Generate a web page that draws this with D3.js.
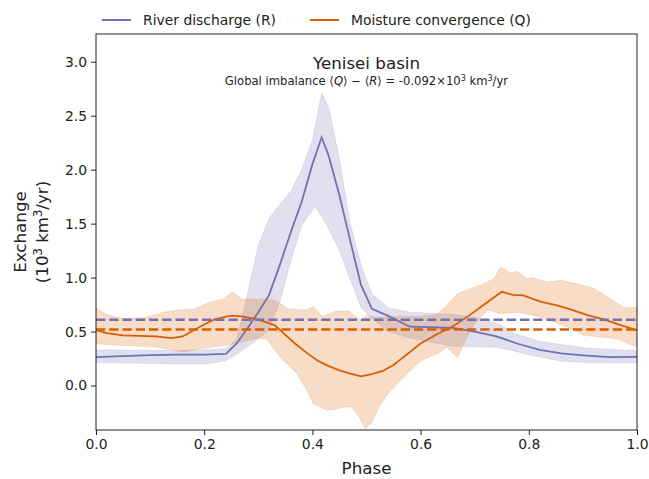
<!DOCTYPE html>
<html>
<head>
<meta charset="utf-8">
<script src="https://cdn.jsdelivr.net/npm/d3@7"></script>
<style>
  body { margin: 0; background: #fff; }
  svg { font-family: "DejaVu Sans", sans-serif; }
</style>
</head>
<body>
<svg width="649" height="479"></svg>
<script>
// River discharge (R): mean and spread edges, [phase, value]
const riverMean = [[0,0.263],[0.05,0.272],[0.1,0.282],[0.15,0.287],[0.2,0.286],[0.24,0.294],[0.26,0.39],[0.28,0.53],[0.30,0.68],[0.32,0.84],[0.34,1.12],[0.36,1.42],[0.38,1.70],[0.40,2.05],[0.417,2.30],[0.43,2.13],[0.45,1.76],[0.47,1.34],[0.49,0.93],[0.51,0.71],[0.54,0.645],[0.58,0.545],[0.62,0.54],[0.66,0.535],[0.70,0.50],[0.74,0.455],[0.78,0.387],[0.82,0.33],[0.86,0.298],[0.90,0.28],[0.95,0.263],[1.0,0.265]];
const riverHigh = [[0,0.33],[0.05,0.33],[0.1,0.325],[0.15,0.325],[0.2,0.33],[0.24,0.34],[0.26,0.43],[0.28,0.85],[0.30,1.30],[0.32,1.55],[0.34,1.68],[0.36,1.80],[0.38,2.0],[0.40,2.27],[0.417,2.71],[0.43,2.58],[0.45,2.10],[0.47,1.50],[0.49,1.12],[0.51,0.85],[0.54,0.72],[0.58,0.68],[0.62,0.67],[0.66,0.66],[0.70,0.63],[0.74,0.58],[0.78,0.47],[0.82,0.41],[0.86,0.38],[0.90,0.35],[0.95,0.335],[1.0,0.325]];
const riverLow = [[0,0.215],[0.05,0.21],[0.1,0.205],[0.15,0.2],[0.2,0.2],[0.24,0.23],[0.26,0.29],[0.28,0.36],[0.30,0.43],[0.32,0.52],[0.34,0.78],[0.36,1.15],[0.38,1.48],[0.405,1.66],[0.418,1.56],[0.43,1.45],[0.45,1.25],[0.47,0.98],[0.49,0.72],[0.51,0.62],[0.54,0.50],[0.58,0.44],[0.62,0.40],[0.66,0.365],[0.70,0.36],[0.74,0.355],[0.78,0.31],[0.82,0.265],[0.86,0.225],[0.90,0.215],[0.95,0.21],[1.0,0.21]];

// Moisture convergence (Q)
const moistMean = [[0,0.515],[0.02,0.485],[0.05,0.465],[0.08,0.46],[0.11,0.455],[0.14,0.44],[0.16,0.455],[0.18,0.51],[0.20,0.565],[0.22,0.615],[0.25,0.648],[0.27,0.64],[0.30,0.61],[0.33,0.56],[0.35,0.47],[0.37,0.38],[0.39,0.30],[0.41,0.23],[0.43,0.18],[0.45,0.14],[0.47,0.11],[0.49,0.085],[0.51,0.105],[0.53,0.135],[0.55,0.19],[0.57,0.27],[0.60,0.39],[0.63,0.475],[0.66,0.55],[0.69,0.65],[0.72,0.76],[0.75,0.868],[0.77,0.84],[0.79,0.835],[0.82,0.78],[0.85,0.745],[0.88,0.70],[0.91,0.65],[0.94,0.61],[0.97,0.56],[1.0,0.51]];
const moistHigh = [[0,0.72],[0.017,0.66],[0.05,0.62],[0.09,0.63],[0.125,0.68],[0.152,0.70],[0.183,0.71],[0.208,0.77],[0.235,0.80],[0.252,0.87],[0.27,0.80],[0.307,0.80],[0.331,0.79],[0.356,0.71],[0.387,0.70],[0.402,0.73],[0.418,0.64],[0.443,0.69],[0.467,0.69],[0.489,0.61],[0.50,0.65],[0.52,0.63],[0.56,0.64],[0.60,0.64],[0.63,0.66],[0.646,0.73],[0.668,0.85],[0.693,0.90],[0.711,0.93],[0.736,0.99],[0.748,1.10],[0.767,1.04],[0.779,1.06],[0.797,0.99],[0.804,1.0],[0.835,0.96],[0.859,0.975],[0.89,0.94],[0.921,0.90],[0.952,0.80],[0.976,0.72],[1.0,0.725]];
const moistLow = [[0,0.387],[0.05,0.37],[0.112,0.356],[0.162,0.31],[0.193,0.34],[0.236,0.37],[0.267,0.40],[0.30,0.44],[0.315,0.43],[0.335,0.30],[0.347,0.23],[0.372,0.108],[0.39,-0.046],[0.402,-0.17],[0.427,-0.23],[0.443,-0.22],[0.458,-0.20],[0.473,-0.20],[0.486,-0.29],[0.498,-0.40],[0.51,-0.34],[0.526,-0.17],[0.544,-0.05],[0.569,0.077],[0.60,0.23],[0.631,0.294],[0.649,0.356],[0.668,0.257],[0.686,0.45],[0.699,0.57],[0.724,0.70],[0.748,0.666],[0.779,0.68],[0.81,0.65],[0.841,0.60],[0.872,0.54],[0.902,0.464],[0.933,0.45],[0.964,0.43],[1.0,0.356]];

// Time-mean levels
const riverAvg = 0.61;
const moistAvg = 0.518;

const xTicks = [0, 0.2, 0.4, 0.6, 0.8, 1.0];
const yTicks = [0, 0.5, 1.0, 1.5, 2.0, 2.5, 3.0];

const purple = "#7570b3";
const orange = "#d95f02";

const margin = { left: 96, right: 12, top: 34, bottom: 49 };
const width = 649 - margin.left - margin.right;
const height = 479 - margin.top - margin.bottom;

const svg = d3.select("svg");
const g = svg.append("g").attr("transform", `translate(${margin.left},${margin.top})`);

const x = d3.scaleLinear().domain([0, 1]).range([0, width]);
const y = d3.scaleLinear().domain([-0.412, 3.257]).range([height, 0]);

const line = d3.line().x(d => x(d[0])).y(d => y(d[1]));

g.append("clipPath").attr("id", "clip")
    .append("rect").attr("width", width).attr("height", height);

const plot = g.append("g").attr("clip-path", "url(#clip)");

// Spread bands: upper edge then lower edge reversed
function band(high, low, color) {
    plot.append("path")
        .attr("d", line(high.concat(low.slice().reverse())) + "Z")
        .attr("fill", color)
        .attr("fill-opacity", 0.22)
        .attr("stroke", color)
        .attr("stroke-opacity", 0.15)
        .attr("stroke-width", 1);
}
band(riverHigh, riverLow, purple);
band(moistHigh, moistLow, orange);

plot.append("path").attr("d", line(riverMean))
    .attr("fill", "none").attr("stroke", purple).attr("stroke-width", 1.8);
plot.append("path").attr("d", line(moistMean))
    .attr("fill", "none").attr("stroke", orange).attr("stroke-width", 1.8);

// Mean levels
[[riverAvg, purple], [moistAvg, orange]].forEach(([v, c]) => {
    plot.append("line")
        .attr("x1", 0).attr("x2", width)
        .attr("y1", y(v)).attr("y2", y(v))
        .attr("stroke", c).attr("stroke-width", 2.5)
        .attr("stroke-dasharray", "9.25,4");
});

// Axes
const gx = g.append("g")
    .attr("transform", `translate(0,${height})`)
    .call(d3.axisBottom(x).tickValues(xTicks).tickFormat(d3.format(".1f")).tickSize(5).tickPadding(4));
const gy = g.append("g")
    .call(d3.axisLeft(y).tickValues(yTicks).tickFormat(d3.format(".1f")).tickSize(5).tickPadding(4));
[gx, gy].forEach(a => {
    a.select(".domain").remove();
    a.selectAll("text").attr("font-size", 13.9).attr("font-family", "DejaVu Sans").attr("fill", "#222");
    a.selectAll("line").attr("stroke", "#222");
});

g.append("rect")
    .attr("width", width).attr("height", height)
    .attr("fill", "none").attr("stroke", "#222").attr("stroke-width", 1);

// Titles
g.append("text")
    .attr("x", width / 2).attr("y", 34.5)
    .attr("text-anchor", "middle")
    .attr("font-size", 16.7).attr("fill", "#222")
    .text("Yenisei basin");

const sub = g.append("text")
    .attr("x", width / 2).attr("y", 51)
    .attr("text-anchor", "middle")
    .attr("font-size", 11.6).attr("fill", "#222");
sub.append("tspan").text("Global imbalance ⟨");
sub.append("tspan").attr("font-style", "italic").text("Q");
sub.append("tspan").text("⟩ − ⟨");
sub.append("tspan").attr("font-style", "italic").text("R");
sub.append("tspan").text("⟩ = -0.092×10");
sub.append("tspan").attr("font-size", 8).attr("dy", -4).text("3");
sub.append("tspan").attr("dy", 4).text(" km");
sub.append("tspan").attr("font-size", 8).attr("dy", -4).text("3");
sub.append("tspan").attr("dy", 4).text("/yr");

g.append("text")
    .attr("x", width / 2).attr("y", height + 44)
    .attr("text-anchor", "middle")
    .attr("font-size", 16.7).attr("fill", "#222")
    .text("Phase");

const yl = svg.append("text")
    .attr("transform", `translate(26,${margin.top + height / 2}) rotate(-90)`)
    .attr("text-anchor", "middle")
    .attr("font-size", 16.7).attr("fill", "#222");
yl.append("tspan").attr("x", 0).attr("dy", 0).text("Exchange");
const yl2 = svg.append("text")
    .attr("transform", `translate(48,${margin.top + height / 2}) rotate(-90)`)
    .attr("text-anchor", "middle")
    .attr("font-size", 16.7).attr("fill", "#222");
yl2.append("tspan").text("(10");
yl2.append("tspan").attr("font-size", 11.5).attr("dy", -6).text("3");
yl2.append("tspan").attr("dy", 6).text(" km");
yl2.append("tspan").attr("font-size", 11.5).attr("dy", -6).text("3");
yl2.append("tspan").attr("dy", 6).text("/yr)");

// Legend
const legendItems = [
    { label: "River discharge (R)", color: purple, x: 102 },
    { label: "Moisture convergence (Q)", color: orange, x: 310 }
];
const leg = svg.append("g");
legendItems.forEach(it => {
    leg.append("line")
        .attr("x1", it.x).attr("x2", it.x + 29)
        .attr("y1", 20).attr("y2", 20)
        .attr("stroke", it.color).attr("stroke-width", 2);
    leg.append("text")
        .attr("x", it.x + 41).attr("y", 25)
        .attr("font-size", 13.9).attr("fill", "#222")
        .text(it.label);
});
</script>
</body>
</html>
